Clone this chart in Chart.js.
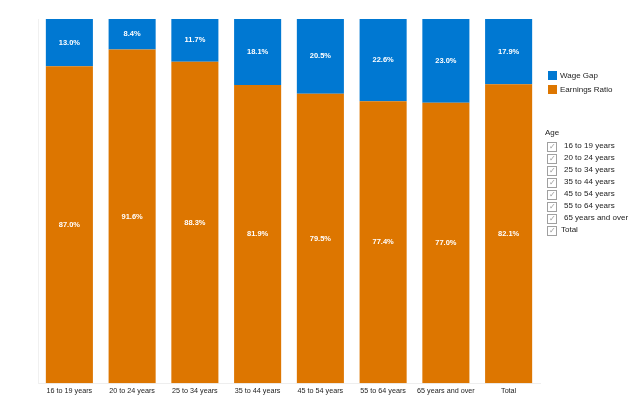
<!DOCTYPE html>
<html>
<head>
<meta charset="utf-8">
<script src="https://cdn.jsdelivr.net/npm/chart.js@4"></script>
<style>
  body { margin: 0; background: #fff; }
  #wrap { position: relative; width: 640px; height: 411px; }
  #legend { position: absolute; left: 0; top: 0; font-family: "Liberation Sans", Arial, sans-serif; font-size: 8px; color: #222; }
  .item { position: absolute; white-space: nowrap; line-height: 10px; }
  .sw { position: absolute; width: 9px; height: 9px; }
  .box { position: absolute; width: 8px; height: 8px; border: 1px solid #a0a0a0; background: #fff;
         font-size: 8px; line-height: 8px; text-align: center; color: #999; }
</style>
</head>
<body>
<div id="wrap">
  <canvas id="chart" width="640" height="411"></canvas>
  <div id="legend"></div>
</div>
<script>
// categories + series (percent)
const ageGroups = ["16 to 19 years", "20 to 24 years", "25 to 34 years", "35 to 44 years",
                   "45 to 54 years", "55 to 64 years", "65 years and over", "Total"];
const earningsRatio = [87.0, 91.6, 88.3, 81.9, 79.5, 77.4, 77.0, 82.1];
const wageGap = [13.0, 8.4, 11.7, 18.1, 20.5, 22.6, 23.0, 17.9];

const BLUE = "#0078D2";
const ORANGE = "#DD7600";

// white value labels centred in each segment
const segmentLabels = {
  id: "segmentLabels",
  afterDatasetsDraw(chart) {
    const ctx = chart.ctx;
    ctx.save();
    ctx.fillStyle = "#ffffff";
    ctx.font = "bold 7.5px 'Liberation Sans', Arial, sans-serif";
    ctx.textAlign = "center";
    ctx.textBaseline = "middle";
    chart.data.datasets.forEach((ds, i) => {
      chart.getDatasetMeta(i).data.forEach((bar, j) => {
        const y = (bar.y + bar.base) / 2;
        ctx.fillText(ds.data[j].toFixed(1) + "%", bar.x, y);
      });
    });
    ctx.restore();
  }
};

new Chart(document.getElementById("chart").getContext("2d"), {
  type: "bar",
  data: {
    labels: ageGroups,
    datasets: [
      { label: "Earnings Ratio", data: earningsRatio, backgroundColor: ORANGE },
      { label: "Wage Gap", data: wageGap, backgroundColor: BLUE }
    ]
  },
  options: {
    responsive: false,
    animation: false,
    layout: { padding: { left: 38, right: 100, top: 19, bottom: 12 } },
    datasets: { bar: { categoryPercentage: 1, barPercentage: 0.75 } },
    plugins: { legend: { display: false }, tooltip: { enabled: false } },
    scales: {
      x: {
        stacked: true,
        grid: { display: false, drawTicks: false },
        border: { color: "#eeeeee" },
        ticks: { color: "#222", padding: 3.5, autoSkip: false, maxRotation: 0,
                 font: { family: "'Liberation Sans', Arial, sans-serif", size: 7.2 } }
      },
      y: {
        stacked: true,
        min: 0, max: 100,
        grid: { display: false, drawTicks: false },
        border: { color: "#f0f0f0" },
        ticks: { display: false }
      }
    }
  },
  plugins: [segmentLabels]
});

// right-side legend and age filter list
const legend = document.getElementById("legend");
function add(html, cls, x, y) {
  const d = document.createElement("div");
  d.className = cls;
  d.style.left = x + "px";
  d.style.top = y + "px";
  d.innerHTML = html;
  legend.appendChild(d);
}
[["Wage Gap", BLUE], ["Earnings Ratio", ORANGE]].forEach(([name, col], i) => {
  const y = 71 + i * 14;
  add("", "sw", 548, y);
  legend.lastChild.style.background = col;
  add(name, "item", 560, y - 0.5);
});
add("Age", "item", 545, 128);
ageGroups.forEach((name, i) => {
  const y = 141.5 + i * 12;
  add("✓", "box", 547, y);
  add(name, "item", name === "Total" ? 561 : 564, y - 0.5);
});
</script>
</body>
</html>
